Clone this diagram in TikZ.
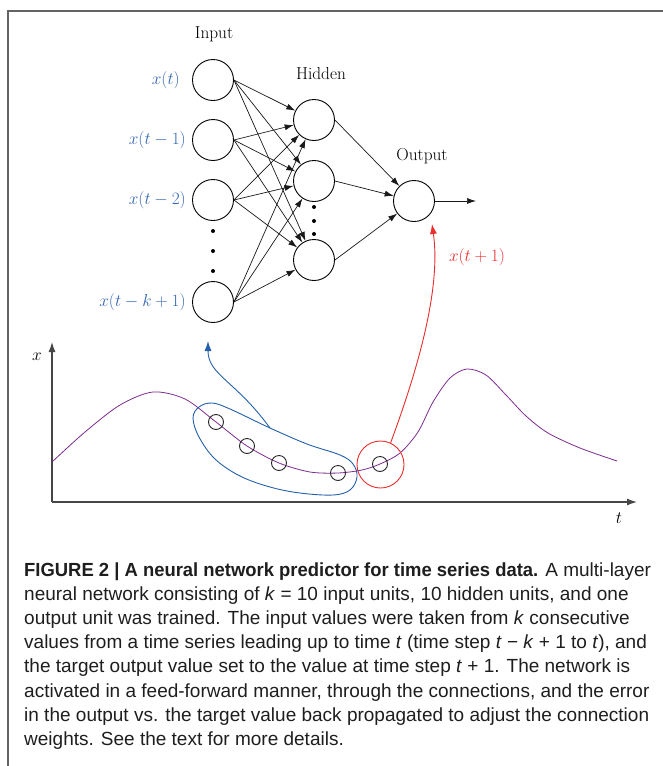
\documentclass[tikz,border=0pt]{standalone}
\usepackage{fontspec}
\usetikzlibrary{arrows.meta}
\newfontfamily\capfont{Liberation Sans}[BoldFeatures={FakeStretch=0.97}]
\definecolor{lblblue}{RGB}{52,103,177}
\definecolor{arrowblue}{RGB}{35,95,170}
\definecolor{myred}{RGB}{235,45,45}
\definecolor{mypurple}{RGB}{125,45,145}
\definecolor{axisgray}{RGB}{70,70,70}
\definecolor{framegray}{RGB}{100,100,100}
\definecolor{captext}{RGB}{30,30,30}
\begin{document}
\begin{tikzpicture}[x=1pt,y=-1pt,
  neuron/.style={circle,draw=black,line width=0.9pt,minimum size=41pt,inner sep=0pt},
  conn/.style={-{Latex[length=9pt,width=6pt]},line width=0.7pt,draw=black!90},
  datapt/.style={circle,draw=black!85,line width=0.9pt,minimum size=15pt,inner sep=0pt},
  dotnode/.style={circle,fill=black,inner sep=0pt,minimum size=4pt},
  lbl/.style={font=\fontsize{17.28}{20}\selectfont,inner sep=0pt},
  inlbl/.style={lbl,text=lblblue,anchor=east},
  axisline/.style={draw=axisgray,line width=1.3pt,-{Latex[length=10pt,width=7pt]}},
  capline/.style={anchor=base west,inner sep=0pt,text=captext,font=\capfont\fontsize{19}{22}\selectfont}
]
\useasboundingbox (0,0) rectangle (662,766);
% frame
\draw[framegray,line width=1.6pt] (8,767) -- (8,11) -- (663,11);

% network
\node[neuron] (I1) at (213,80) {};
\node[neuron] (I2) at (213,140) {};
\node[neuron] (I3) at (213,200) {};
\node[neuron] (I4) at (213,302) {};
\node[neuron] (H1) at (314,120) {};
\node[neuron] (H2) at (314,181) {};
\node[neuron] (H3) at (314,260) {};
\node[neuron] (O) at (414,201) {};
\coordinate (oend) at (476,201);

\node[dotnode] (d1) at (213,231) {};
\node[dotnode] (d2) at (213,251) {};
\node[dotnode] (d3) at (213,271) {};
\node[dotnode] (d4) at (314,207) {};
\node[dotnode] (d5) at (314,221) {};
\node[dotnode] (d6) at (314,234) {};

\foreach \i in {1,...,4}
  \foreach \j in {1,2,3}
    \draw[conn] (I\i.east) -- (H\j);
\foreach \j in {1,2,3}
  \draw[conn] (H\j.east) -- (O);
\draw[conn] (O.east) -- (oend);

\node[lbl] (tin) at (214,34) {Input};
\node[lbl] (thid) at (321,74) {Hidden};
\node[lbl] (tout) at (422,156) {Output};

\node[inlbl] (l1) at (180,80) {$x(t)$};
\node[inlbl] (l2) at (186,140) {$x(t-1)$};
\node[inlbl] (l3) at (186,200) {$x(t-2)$};
\node[inlbl] (l4) at (186,302) {$x(t-k+1)$};

% time series plot
\coordinate (ax0) at (52,502);
\coordinate (axy) at (52,342);
\coordinate (axx) at (637,502);
\draw[axisline] (ax0) -- (axy);
\draw[axisline] (ax0) -- (axx);
\node[lbl] (xl) at (37,357) {$x$};
\node[lbl] (tl) at (619,518) {$t$};

\draw[mypurple,line width=0.8pt] plot[smooth,tension=0.5] coordinates {
 (52,462) (85,432) (120,405) (153,392) (185,399) (216,422) (247,446) (279,463)
 (310,472) (338,473) (362,470) (380,464) (400,453) (418,432) (433,402) (450,378)
 (467,369) (486,375) (506,395) (526,416) (548,433) (580,448) (617,461)};

\draw[arrowblue,line width=0.9pt] plot[smooth cycle,tension=0.6] coordinates {
 (193,418) (199,407) (212,403) (230,409) (270,428) (307,444) (340,455) (353,464)
 (357,477) (350,490) (333,495) (300,493) (270,487) (240,476) (215,459) (199,437)};

\node[datapt] (p1) at (216,422) {};
\node[datapt] (p2) at (247,446) {};
\node[datapt] (p3) at (279,463) {};
\node[datapt] (p4) at (338,473) {};
\node[datapt] (p5) at (380,464) {};
\node[circle,draw=myred,line width=0.9pt,minimum size=47pt,inner sep=0pt] (rc) at (380.5,464.5) {};

\coordinate (bstart) at (270,428);
\coordinate (btip) at (208,341);
\draw[arrowblue,line width=0.9pt,-{Latex[length=10pt,width=7pt]}] (bstart) .. controls (235,380) and (208,375) .. (btip);

\coordinate (rtip) at (432,224);
\draw[myred,line width=0.9pt,-{Latex[length=10pt,width=7pt]}] (rc.65) .. controls (425,350) and (440,280) .. (rtip);
\node[lbl,text=myred] (rl) at (477,257) {$x(t+1)$};

% caption
\node[capline] (c1) at (24,576) {\textbf{FIGURE 2 | A neural network predictor for time series data.} A multi-layer};
\node[capline] (c2) at (24,600.2) {neural network consisting of \textit{k} = 10 input units, 10 hidden units, and one};
\node[capline] (c3) at (24,624.4) {output unit was trained. The input values were taken from \textit{k} consecutive};
\node[capline] (c4) at (24,648.6) {values from a time series leading up to time \textit{t} (time step \textit{t} − \textit{k} + 1 to \textit{t}), and};
\node[capline] (c5) at (24,672.8) {the target output value set to the value at time step \textit{t} + 1. The network is};
\node[capline] (c6) at (24,697) {activated in a feed-forward manner, through the connections, and the error};
\node[capline] (c7) at (24,721.2) {in the output vs. the target value back propagated to adjust the connection};
\node[capline] (c8) at (24,745.4) {weights. See the text for more details.};
\end{tikzpicture}
\end{document}
